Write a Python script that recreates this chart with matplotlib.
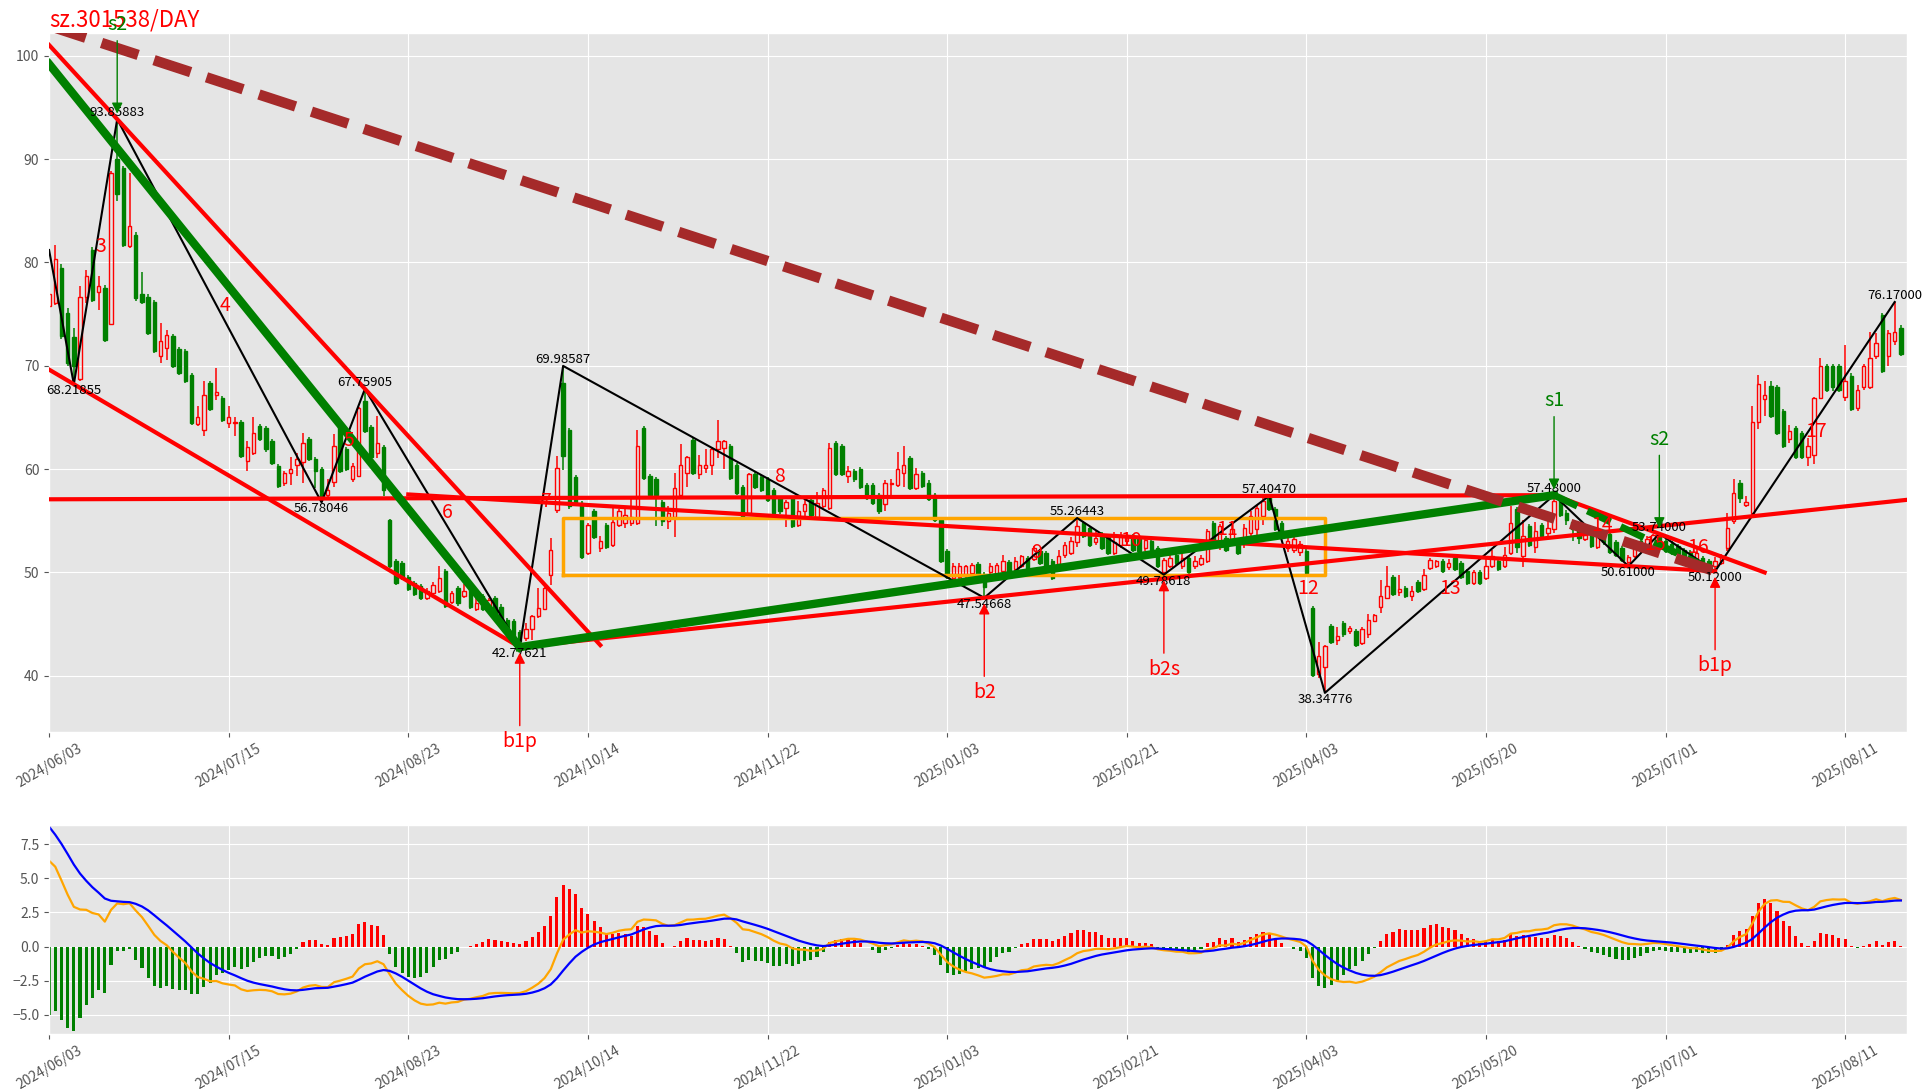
import numpy as np
import matplotlib.pyplot as plt

plt.style.use('ggplot')
plt.rcParams['font.family'] = ['Noto Sans CJK SC', 'DejaVu Sans']

# daily OHLC, 2024/06/03 .. 2025/08/22 (300 trading days)
opens = [
    75.8, 76.1, 79.5, 75.1, 72.8, 68.7, 76.7, 81.2, 77.1, 77.5,
    74.0, 90.0, 89.1, 81.6, 82.7, 76.9, 76.7, 76.2, 70.9, 71.7,
    72.9, 71.6, 71.4, 69.1, 64.4, 63.8, 68.3, 67.2, 66.9, 64.5,
    64.5, 64.6, 60.8, 61.6, 64.2, 64.0, 62.7, 60.3, 58.7, 59.6,
    60.4, 60.7, 62.9, 61.0, 60.0, 57.5, 58.8, 64.2, 61.9, 59.0,
    59.3, 66.6, 64.1, 61.6, 62.1, 55.1, 51.1, 50.9, 49.6, 49.0,
    48.7, 47.5, 48.0, 48.2, 50.1, 47.1, 48.5, 47.7, 48.5, 46.5,
    47.7, 46.6, 47.5, 46.7, 45.4, 45.3, 44.2, 43.7, 44.5, 45.8,
    46.5, 49.8, 56.0, 68.3, 63.8, 59.2, 56.7, 51.9, 55.9, 52.4,
    54.6, 52.7, 54.6, 54.8, 54.8, 54.8, 64.0, 59.3, 59.0, 56.8,
    55.0, 55.4, 57.5, 59.6, 62.8, 59.5, 60.1, 60.4, 61.9, 62.0,
    62.2, 60.4, 58.3, 55.8, 59.5, 59.2, 59.0, 58.0, 57.2, 56.2,
    57.2, 54.6, 55.9, 57.0, 55.4, 56.4, 56.2, 62.5, 62.2, 59.3,
    59.8, 60.0, 58.5, 58.5, 57.5, 56.6, 58.6, 58.5, 59.6, 61.1,
    58.2, 59.6, 58.7, 57.5, 55.1, 52.1, 49.5, 49.6, 49.8, 49.9,
    50.8, 49.8, 50.0, 49.8, 50.1, 51.0, 50.3, 50.6, 51.4, 51.3,
    52.1, 51.9, 51.1, 50.8, 51.7, 51.9, 52.9, 54.8, 54.3, 52.9,
    53.7, 53.5, 51.9, 52.7, 53.0, 53.5, 53.2, 52.4, 53.0, 52.4,
    50.0, 50.6, 51.7, 50.6, 51.4, 50.6, 50.8, 51.1, 54.8, 52.9,
    53.3, 53.2, 52.9, 53.0, 53.8, 54.2, 55.5, 57.3, 56.1, 54.8,
    52.4, 52.2, 52.0, 52.1, 46.6, 40.2, 40.9, 44.8, 43.5, 45.1,
    44.3, 44.3, 43.2, 44.0, 45.3, 46.7, 47.5, 49.6, 48.1, 48.5,
    47.7, 49.1, 48.4, 50.4, 50.6, 51.1, 50.5, 51.4, 50.9, 50.1,
    49.0, 50.0, 49.5, 50.6, 51.1, 50.6, 51.9, 56.1, 51.6, 54.5,
    52.5, 54.6, 53.8, 54.2, 57.1, 55.8, 54.9, 54.2, 53.2, 53.8,
    52.5, 53.5, 53.7, 52.9, 52.4, 51.0, 51.6, 53.0, 52.3, 52.4,
    53.7, 53.0, 52.8, 52.6, 52.2, 52.0, 51.3, 51.4, 51.1, 50.6,
    50.9, 52.4, 55.0, 58.7, 56.5, 55.8, 64.6, 66.8, 68.0, 67.9,
    65.6, 62.9, 64.0, 63.5, 61.2, 61.4, 66.9, 70.0, 70.0, 70.0,
    67.0, 69.0, 65.9, 67.9, 67.9, 70.9, 74.9, 70.9, 72.4, 73.7,
]
highs = [
    77.9, 81.7, 79.8, 75.6, 73.7, 77.7, 79.3, 81.5, 78.7, 77.8,
    88.8, 93.86, 89.3, 88.7, 82.9, 79.1, 76.9, 76.4, 74.1, 73.5,
    73.1, 71.8, 71.6, 69.3, 66.1, 68.5, 68.5, 69.8, 67.1, 66.1,
    65.0, 64.8, 62.7, 65.0, 64.4, 64.2, 62.9, 60.5, 59.8, 61.2,
    61.6, 63.5, 63.1, 61.2, 60.2, 59.0, 63.4, 64.4, 62.1, 60.6,
    66.0, 67.76, 64.3, 65.1, 62.3, 55.2, 51.3, 51.1, 49.8, 49.2,
    48.9, 48.5, 49.1, 50.6, 50.3, 48.2, 48.7, 48.9, 48.7, 47.7,
    47.9, 47.5, 47.7, 46.9, 45.6, 45.5, 44.4, 45.1, 45.9, 48.5,
    49.0, 53.3, 61.3, 69.99, 64.0, 59.4, 56.9, 54.8, 56.1, 53.5,
    54.8, 56.2, 56.1, 56.1, 57.1, 63.8, 64.2, 59.5, 59.2, 57.0,
    56.4, 59.6, 62.4, 61.3, 63.0, 61.4, 61.9, 62.1, 64.8, 62.8,
    62.4, 60.6, 58.5, 59.6, 59.7, 59.4, 59.2, 58.2, 57.4, 57.0,
    57.4, 56.9, 57.1, 57.2, 57.8, 58.2, 62.5, 62.7, 62.4, 60.3,
    60.0, 60.2, 58.7, 58.7, 57.7, 58.9, 59.0, 61.7, 62.2, 61.3,
    60.1, 59.8, 58.9, 57.7, 55.3, 52.3, 50.9, 50.9, 50.7, 50.9,
    51.0, 50.0, 50.9, 50.9, 51.7, 51.2, 51.5, 51.7, 51.6, 52.6,
    52.3, 52.1, 51.3, 52.2, 52.9, 53.4, 55.26, 55.0, 54.5, 54.1,
    53.9, 53.7, 53.9, 53.9, 53.9, 53.7, 53.4, 53.5, 53.2, 52.6,
    51.4, 51.7, 51.9, 51.9, 51.6, 51.6, 51.7, 54.2, 55.0, 54.7,
    53.5, 55.0, 53.1, 54.7, 55.9, 56.5, 57.2, 57.40, 56.3, 55.0,
    53.3, 53.4, 53.0, 52.3, 46.8, 43.3, 43.0, 45.0, 44.7, 45.3,
    44.8, 44.5, 44.7, 46.0, 46.0, 49.3, 50.6, 49.8, 49.8, 48.7,
    48.7, 49.3, 50.3, 51.4, 51.2, 51.3, 51.3, 51.6, 51.1, 50.3,
    50.2, 50.2, 51.3, 52.2, 51.3, 52.5, 56.4, 56.3, 55.1, 54.7,
    54.9, 54.8, 55.0, 57.48, 57.3, 56.0, 55.1, 54.4, 54.0, 54.0,
    53.6, 53.8, 53.9, 53.1, 52.6, 51.7, 52.6, 53.4, 53.5, 53.7,
    53.74, 53.2, 53.0, 52.8, 52.4, 52.2, 52.3, 51.6, 51.3, 51.5,
    51.8, 55.8, 59.0, 58.9, 57.4, 66.1, 69.1, 68.5, 68.5, 68.1,
    65.8, 64.3, 64.2, 63.7, 63.0, 67.0, 70.8, 70.2, 70.2, 70.2,
    72.0, 69.3, 68.1, 70.2, 73.3, 73.2, 75.1, 73.5, 76.17, 73.9,
]
lows = [
    75.0, 75.9, 72.6, 70.0, 68.22, 68.5, 76.1, 76.2, 75.4, 72.3,
    74.0, 85.9, 81.5, 81.4, 76.3, 76.0, 73.0, 71.2, 70.3, 70.6,
    69.8, 69.1, 68.3, 64.3, 64.2, 63.2, 65.6, 66.7, 64.6, 64.0,
    63.2, 61.1, 59.8, 61.4, 62.7, 61.7, 60.4, 58.2, 58.4, 58.5,
    59.3, 58.7, 60.8, 58.2, 56.78, 57.1, 58.3, 59.6, 59.8, 58.8,
    59.2, 63.5, 61.0, 61.1, 57.4, 50.4, 48.8, 49.3, 48.2, 47.7,
    47.3, 47.3, 47.7, 48.0, 46.6, 46.9, 46.8, 47.5, 46.5, 46.3,
    46.3, 46.4, 45.4, 44.6, 43.9, 43.3, 42.78, 43.4, 43.5, 45.6,
    46.4, 48.8, 55.8, 59.9, 56.1, 56.4, 51.3, 51.7, 53.2, 52.0,
    52.3, 52.5, 54.4, 54.3, 54.5, 54.6, 58.9, 57.3, 54.5, 54.5,
    54.2, 53.4, 57.3, 58.3, 59.4, 59.0, 59.6, 59.4, 61.1, 60.0,
    58.9, 57.5, 55.1, 55.6, 58.1, 57.8, 56.8, 55.6, 55.7, 54.4,
    54.3, 54.4, 55.4, 55.4, 55.2, 56.2, 56.0, 59.3, 59.3, 58.7,
    58.8, 58.1, 57.0, 56.5, 55.7, 55.9, 57.2, 58.3, 58.3, 58.0,
    58.0, 58.2, 56.9, 54.9, 50.9, 49.4, 49.3, 49.4, 49.5, 49.7,
    49.4, 47.55, 49.8, 49.6, 49.8, 49.4, 50.1, 50.4, 50.1, 51.1,
    50.7, 50.4, 49.3, 50.4, 51.4, 51.7, 52.5, 53.3, 52.5, 52.7,
    52.2, 51.7, 51.7, 52.4, 52.8, 52.0, 51.9, 52.1, 52.0, 50.4,
    49.79, 50.4, 50.7, 50.3, 49.8, 50.3, 50.6, 50.9, 52.7, 52.2,
    52.0, 52.9, 51.7, 52.4, 53.4, 53.6, 54.6, 55.9, 54.0, 53.3,
    52.0, 51.9, 51.6, 49.6, 39.9, 39.8, 38.35, 43.1, 43.0, 43.8,
    44.0, 42.8, 43.0, 43.7, 45.2, 46.1, 47.4, 47.7, 47.7, 47.5,
    47.2, 48.0, 48.2, 50.2, 50.4, 49.9, 50.2, 50.1, 49.4, 48.8,
    48.8, 48.8, 49.3, 50.4, 50.1, 50.4, 51.7, 51.9, 50.5, 52.5,
    51.9, 53.3, 53.2, 53.8, 55.4, 54.6, 53.0, 52.8, 53.0, 52.4,
    52.3, 52.7, 51.8, 51.5, 51.0, 50.61, 51.4, 52.0, 52.0, 52.1,
    52.6, 51.9, 51.7, 51.6, 51.3, 51.1, 51.1, 50.7, 50.4, 50.12,
    50.7, 52.1, 54.7, 56.7, 56.3, 55.6, 63.9, 65.1, 64.9, 63.3,
    62.0, 62.5, 61.0, 61.0, 60.3, 60.5, 66.8, 67.5, 67.6, 67.5,
    66.6, 65.6, 65.6, 67.7, 67.8, 70.7, 69.3, 70.0, 72.0, 70.9,
]
closes = [
    76.9, 80.3, 72.9, 70.3, 70.0, 76.7, 78.7, 76.4, 77.7, 72.5,
    88.7, 86.6, 81.7, 83.5, 76.6, 76.2, 73.2, 71.4, 72.4, 73.0,
    70.0, 69.3, 68.5, 64.5, 65.0, 67.2, 65.8, 67.5, 64.8, 65.0,
    64.6, 61.3, 62.1, 63.5, 62.9, 61.9, 60.6, 58.4, 59.6, 60.0,
    61.0, 62.5, 61.0, 59.8, 57.3, 58.0, 62.2, 59.8, 60.0, 60.3,
    65.9, 63.7, 61.2, 62.5, 58.0, 50.6, 49.0, 49.5, 48.4, 47.9,
    47.5, 48.2, 48.8, 49.5, 46.8, 48.0, 47.0, 48.2, 46.7, 47.0,
    46.5, 47.3, 45.6, 44.8, 44.1, 43.5, 43.4, 44.5, 45.8, 46.6,
    48.5, 52.2, 60.1, 61.3, 56.4, 56.6, 51.5, 54.6, 53.4, 53.0,
    52.5, 54.9, 55.9, 55.6, 55.4, 62.2, 59.1, 57.5, 57.5, 55.0,
    55.8, 58.2, 60.4, 61.2, 59.6, 60.4, 60.4, 61.9, 62.7, 62.7,
    59.1, 57.7, 55.3, 59.5, 58.3, 58.0, 57.0, 55.8, 55.9, 56.8,
    54.5, 55.9, 56.6, 55.6, 56.7, 58.0, 62.0, 59.5, 59.5, 59.8,
    59.0, 58.3, 57.2, 56.7, 55.9, 58.7, 58.7, 60.0, 60.4, 58.2,
    59.5, 58.4, 57.1, 55.1, 51.1, 49.6, 50.6, 50.6, 50.6, 50.7,
    49.6, 48.6, 50.6, 50.7, 51.1, 49.6, 51.1, 51.6, 50.3, 52.4,
    50.9, 50.6, 49.5, 51.6, 52.7, 53.0, 54.5, 53.5, 52.7, 53.3,
    52.4, 51.9, 52.9, 53.5, 53.6, 52.2, 52.1, 53.1, 52.2, 50.6,
    51.2, 51.4, 50.9, 51.4, 50.0, 51.1, 51.4, 54.0, 52.9, 54.5,
    52.2, 54.2, 51.9, 54.3, 55.5, 56.2, 56.9, 56.1, 54.2, 53.5,
    53.0, 53.2, 52.8, 49.9, 40.1, 41.9, 42.9, 43.3, 43.9, 44.0,
    44.6, 43.0, 44.5, 45.4, 45.9, 47.7, 48.7, 47.9, 48.4, 47.7,
    48.2, 48.2, 49.8, 51.2, 51.1, 50.1, 50.9, 50.3, 49.6, 49.0,
    50.0, 49.0, 50.6, 51.6, 50.3, 51.7, 54.8, 52.5, 53.5, 52.7,
    54.0, 53.5, 54.3, 56.9, 55.6, 55.1, 54.2, 53.3, 53.6, 52.6,
    53.4, 52.9, 52.0, 51.7, 51.2, 51.5, 52.5, 52.3, 53.2, 53.6,
    52.9, 52.1, 51.9, 51.8, 51.5, 51.3, 51.9, 50.9, 50.6, 51.1,
    51.6, 54.3, 57.7, 57.2, 56.8, 64.6, 68.2, 67.2, 65.1, 63.5,
    62.2, 63.7, 61.2, 61.2, 62.2, 66.9, 70.0, 67.7, 67.9, 67.7,
    68.5, 65.8, 67.7, 70.0, 70.8, 72.2, 69.5, 73.2, 73.3, 71.1,
]

tick_labels = ['2024/06/03', '2024/07/15', '2024/08/23', '2024/10/14', '2024/11/22',
               '2025/01/03', '2025/02/21', '2025/04/03', '2025/05/20', '2025/07/01',
               '2025/08/11']
tick_step = 29

# zigzag pivots
pivot_idx = [0, 4, 11, 44, 51, 76, 83, 151, 166, 180, 197, 206, 243, 255, 260, 269, 298]
pivot_val = [81.2, 68.21855, 93.85883, 56.78046, 67.75905, 42.77621, 69.98587, 47.54668,
             55.26443, 49.78618, 57.40470, 38.34776, 57.48000, 50.61000, 53.74000,
             50.12000, 76.17000]
seg_labels = [str(k) for k in range(3, 18)]

# buy / sell signals
sig_text = ['s2', 'b1p', 'b2', 'b2s', 's1', 's2', 'b1p']
sig_idx = [11, 76, 151, 180, 243, 260, 269]
sig_val = [93.85883, 42.77621, 47.54668, 49.78618, 57.48, 53.74, 50.12]

# trend lines (x0, x1), (y0, y1)
red_x = [(0, 89), (0, 76), (0, 243), (58, 269), (76, 300), (243, 277)]
red_y = [(101.04, 42.97), (69.63, 42.776), (57.08, 57.48), (57.55, 50.12),
         (42.776, 57.03), (57.48, 50.0)]
green_x = [(0, 76), (76, 243)]
green_y = [(99.2, 42.776), (42.776, 57.48)]
green_dash_x = (243, 269)
green_dash_y = (57.48, 50.12)
brown_x = (0, 269)
brown_y = (102.9, 50.12)
box_x = (83, 206)
box_y = (49.78618, 55.26443)

# MACD seeds (history before the window)
ema12_seed = 80.56
ema26_seed = 73.44
dea_seed = 9.42

o = np.array(opens)
h = np.array(highs)
l = np.array(lows)
c = np.array(closes)
n = len(c)
x = np.arange(n)
up = c >= o

fig = plt.figure(figsize=(19.32, 10.89), dpi=100)
ax1 = fig.add_axes([0.0254, 0.3278, 0.9617, 0.6419])
ax2 = fig.add_axes([0.0254, 0.0505, 0.9617, 0.1919])

# candles
top = np.maximum(o, c)
bot = np.minimum(o, c)
col = np.where(up, 'red', 'green')
ax1.vlines(x, top, h, colors=col, lw=1.1, zorder=2)
ax1.vlines(x, l, bot, colors=col, lw=1.1, zorder=2)
body = np.maximum(top - bot, 0.08)
ax1.bar(x[up], body[up], bottom=bot[up], width=0.55, facecolor='none',
        edgecolor='red', lw=1.0, zorder=2)
ax1.bar(x[~up], body[~up], bottom=bot[~up], width=0.55, facecolor='green',
        edgecolor='green', lw=1.0, zorder=2)

# box
ax1.plot([box_x[0], box_x[1], box_x[1], box_x[0], box_x[0]],
         [box_y[0], box_y[0], box_y[1], box_y[1], box_y[0]],
         color='orange', lw=2.5, zorder=3)

# zigzag
ax1.plot(pivot_idx, pivot_val, color='black', lw=1.5, zorder=3)
for i in range(1, len(pivot_idx)):
    is_high = pivot_val[i] > pivot_val[i - 1]
    ax1.text(pivot_idx[i], pivot_val[i], '%.5f' % pivot_val[i], fontsize=9.5,
             ha='center', va='bottom' if is_high else 'top', color='black', zorder=8)
for k, lab in enumerate(seg_labels):
    i = k + 1
    mx = (pivot_idx[i] + pivot_idx[i + 1]) / 2
    my = (pivot_val[i] + pivot_val[i + 1]) / 2
    ax1.text(mx, my, lab, color='red', fontsize=14, zorder=8)

for xs, ys in zip(red_x, red_y):
    ax1.plot(xs, ys, color='red', lw=3, zorder=4)
for xs, ys in zip(green_x, green_y):
    ax1.plot(xs, ys, color='green', lw=6, zorder=5)
ax1.plot(green_dash_x, green_dash_y, color='green', lw=5, ls='--', zorder=5)
ax1.plot(brown_x, brown_y, color='brown', lw=7.5, ls='--', zorder=6)

for t, xi, v in zip(sig_text, sig_idx, sig_val):
    if t.startswith('s'):
        colr, ty = 'green', v + 9.15
    else:
        colr, ty = 'red', v - 9.15
    ax1.annotate(t, xy=(xi, v), xytext=(xi, ty), color=colr, fontsize=14,
                 ha='center', va='center', zorder=9,
                 arrowprops=dict(arrowstyle='-|>', color=colr, lw=1,
                                 mutation_scale=16, shrinkB=4))

ax1.set_xlim(0, n)
ax1.set_ylim(34.56, 102.2)
ax1.set_title('sz.301538/DAY', loc='left', color='red', fontsize=16, pad=5)

# MACD
e12 = ema12_seed
e26 = ema26_seed
dea = dea_seed
difs, deas = [], []
for v in c:
    e12 = e12 + 2 / 13 * (v - e12)
    e26 = e26 + 2 / 27 * (v - e26)
    dif = e12 - e26
    dea = dea + 2 / 10 * (dif - dea)
    difs.append(dif)
    deas.append(dea)
difs = np.array(difs)
deas = np.array(deas)
hist = 2 * (difs - deas)
ax2.bar(x, hist, width=0.5, color=np.where(hist >= 0, 'red', 'green'))
ax2.plot(x, difs, color='orange', lw=1.6)
ax2.plot(x, deas, color='blue', lw=1.6)
ax2.set_xlim(0, n)
ax2.set_ylim(-6.42, 8.92)
ax2.set_yticks([-5.0, -2.5, 0.0, 2.5, 5.0, 7.5])

for ax in (ax1, ax2):
    ax.set_xticks(np.arange(0, n, tick_step))
    ax.set_xticklabels(tick_labels, rotation=30, fontsize=10)
    ax.tick_params(axis='y', labelsize=10)

fig.savefig('out.png', dpi=100)
